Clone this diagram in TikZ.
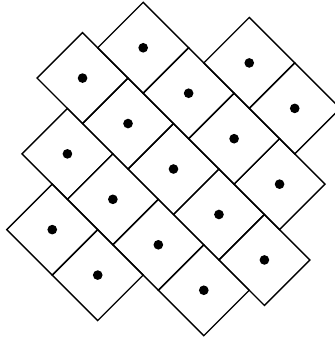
\documentclass[tikz,border=0pt]{standalone}
\usetikzlibrary{positioning}
\begin{document}
\begin{tikzpicture}[
    cell/.style={draw, line width=0.6pt, minimum size=1cm, inner sep=0pt, outer sep=0pt},
    dot/.style={fill, circle, inner sep=0pt, minimum size=0.15cm}
  ]
  \useasboundingbox (-2.227,-4.514) rectangle (2.983,0.743);
  % sheared grid of tilted squares
  \begin{scope}[rotate=-45, transform shape]
    \foreach \j/\first/\last in {1/1/2, 0/0/3, -1/0/4, -2/1/4, -3/2/3}
      \foreach \i in {\first,...,\last} {
        \node[cell] (sq-\i-\j) at ({\i+\j/3},\j) {};
        \node[dot] (dot-\i-\j) at (sq-\i-\j.center) {};
      }
  \end{scope}
\end{tikzpicture}
\end{document}
